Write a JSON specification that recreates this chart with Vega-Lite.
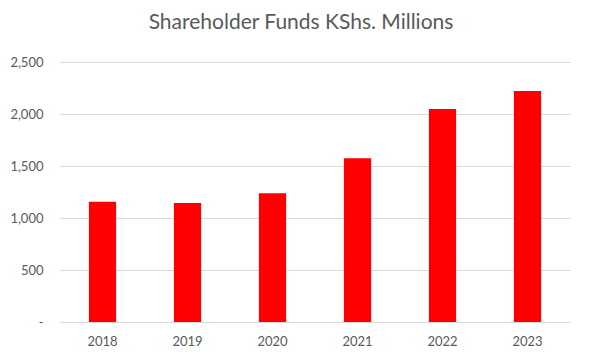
{
  "$schema": "https://vega.github.io/schema/vega-lite/v6.json",
  "width": 510,
  "height": 260,
  "autosize": {"type": "none"},
  "padding": {"left": 60, "top": 62, "right": 28, "bottom": 38},
  "background": "white",
  "title": {
    "text": "Shareholder Funds KShs. Millions",
    "font": "Lato",
    "fontSize": 21,
    "fontWeight": "normal",
    "color": "#595959",
    "anchor": "middle",
    "dx": -14,
    "offset": 23
  },
  "data": {
    "values": [
      {"year": "2018", "funds": 1157},
      {"year": "2019", "funds": 1144},
      {"year": "2020", "funds": 1237},
      {"year": "2021", "funds": 1574},
      {"year": "2022", "funds": 2048},
      {"year": "2023", "funds": 2221}
    ]
  },
  "mark": {"type": "bar", "color": "#ff0000"},
  "encoding": {
    "x": {
      "field": "year",
      "type": "ordinal",
      "scale": {"paddingInner": 0.68, "paddingOuter": 0.34},
      "axis": {
        "title": null,
        "labelAngle": 0,
        "ticks": false,
        "domain": false,
        "labelPadding": 13,
        "labelFont": "Lato",
        "labelFontSize": 13,
        "labelColor": "#595959"
      }
    },
    "y": {
      "field": "funds",
      "type": "quantitative",
      "scale": {"domain": [0, 2500]},
      "axis": {
        "title": null,
        "values": [0, 500, 1000, 1500, 2000, 2500],
        "labelExpr": "datum.value === 0 ? '-' : format(datum.value, ',')",
        "ticks": false,
        "domain": false,
        "gridColor": "#d9d9d9",
        "gridWidth": 1,
        "labelPadding": 17,
        "labelFont": "Lato",
        "labelFontSize": 13,
        "labelColor": "#595959"
      }
    }
  },
  "config": {"view": {"stroke": null}}
}
